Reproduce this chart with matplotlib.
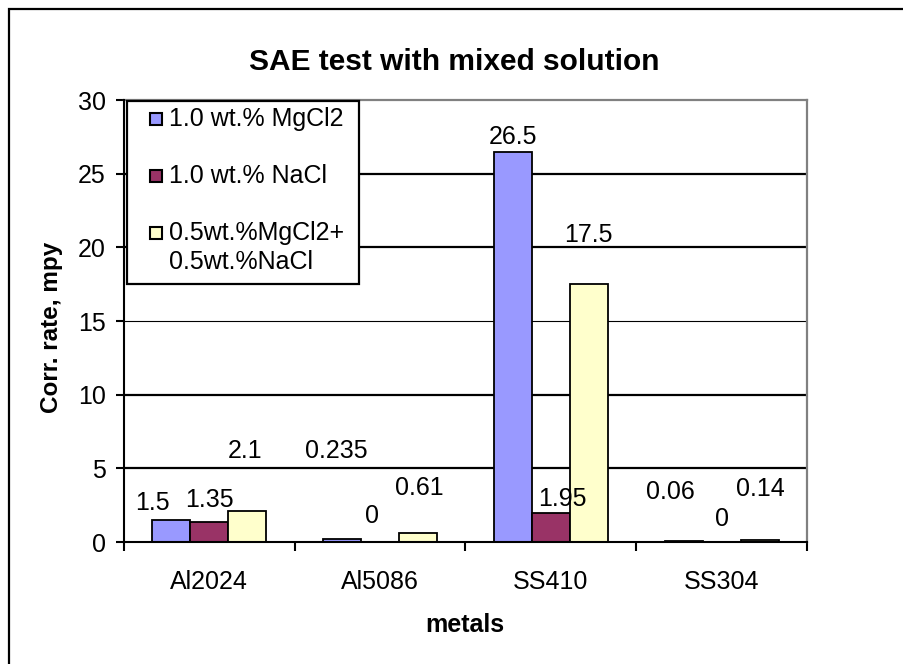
import matplotlib
matplotlib.use("Agg")
import matplotlib.pyplot as plt
import numpy as np
from matplotlib.patches import Rectangle

plt.rcParams['font.family'] = ['Liberation Sans', 'DejaVu Sans']

categories = ["Al2024", "Al5086", "SS410", "SS304"]
series_names = ["1.0 wt.% MgCl2", "1.0 wt.% NaCl", "0.5wt.%MgCl2+\n0.5wt.%NaCl"]
mgcl2 = [1.5, 0.235, 26.5, 0.06]
nacl = [1.35, 0.0, 1.95, 0.0]
mixed = [2.1, 0.61, 17.5, 0.14]
label_texts = [["1.5", "0.235", "26.5", "0.06"],
               ["1.35", "0", "1.95", "0"],
               ["2.1", "0.61", "17.5", "0.14"]]
yticks = [0, 5, 10, 15, 20, 25, 30]

# data-label placement (as moved in the original): y centre in data units,
# x offset in bar widths
label_y = [[2.65, 6.18, 27.49, 3.39],
           [2.85, 1.76, 2.92, 1.56],
           [6.18, 3.67, 20.84, 3.60]]
label_dx = [[-0.51, -0.16, 0.0, -0.36],
            [0.0, -0.21, 0.29, 0.01],
            [-0.06, 0.04, -0.02, 0.01]]

colors = ["#9999FF", "#993366", "#FFFFCC"]

W, H = 904, 664
fig = plt.figure(figsize=(W / 100, H / 100), dpi=100)


def fx(px):
    return px / W


def fy(py):
    return 1 - py / H


ax = fig.add_axes([fx(124), fy(542), (807 - 124) / W, (542 - 100) / H])

x = np.arange(len(categories))
bw = 1 / 4.5
series = [mgcl2, nacl, mixed]
for i, (vals, c) in enumerate(zip(series, colors)):
    pos = x + (i - 1) * bw
    ax.bar(pos, vals, width=bw, color=c, edgecolor="black", linewidth=1.3, zorder=3)
    for j in range(len(categories)):
        ax.text(pos[j] + label_dx[i][j] * bw, label_y[i][j], label_texts[i][j],
                ha="center", va="center", fontsize=18, zorder=5)

ax.set_xlim(-0.5, len(categories) - 0.5)
ax.set_ylim(0, 30)
ax.set_yticks(yticks)
ax.set_yticklabels([str(v) for v in yticks], fontsize=18)
ax.set_xticks(np.arange(len(categories) + 1) - 0.5)
ax.set_xticklabels([])
ax.set_xticks(x, minor=True)
ax.set_xticklabels(categories, minor=True, fontsize=18)
ax.tick_params(axis="x", which="minor", length=0, pad=20.5)
ax.tick_params(axis="x", which="major", direction="out", length=6.5, width=1.5)
ax.tick_params(axis="y", direction="out", length=6, width=1.5, pad=7)

for v in yticks[1:-1]:
    ax.axhline(v, color="black", linewidth=(0.8 if v == 15 else 1.6), zorder=1)

for s in ["left", "bottom"]:
    ax.spines[s].set_color("black")
    ax.spines[s].set_linewidth(1.5)
    ax.spines[s].set_zorder(4)
for s in ["top", "right"]:
    ax.spines[s].set_color("#808080")
    ax.spines[s].set_linewidth(1.6)

fig.text(fx(465), fy(625), "metals", ha="center", va="center",
         fontsize=18, fontweight="bold")
fig.text(fx(52), fy(327), "Corr. rate, mpy", ha="center", va="center",
         rotation=90, fontsize=17.5, fontweight="bold")
fig.text(fx(454), fy(62), "SAE test with mixed solution", ha="center",
         va="center", fontsize=21.5, fontweight="bold")

# legend (drawn as in the original: boxed, entries spaced out)
fig.add_artist(Rectangle((fx(127), fy(284)), (359 - 127) / W, (284 - 101) / H,
                         transform=fig.transFigure, facecolor="white",
                         edgecolor="black", linewidth=1.6, zorder=6))
entry_y = [119, 176, 233]
for name, c, ey in zip(series_names, colors, entry_y):
    fig.add_artist(Rectangle((fx(150), fy(ey + 6)), 12 / W, 12 / H,
                             transform=fig.transFigure, facecolor=c,
                             edgecolor="black", linewidth=1.5, zorder=7))
    for k, line in enumerate(name.split("\n")):
        fig.text(fx(169), fy(ey + 29 * k), line, ha="left", va="center",
                 fontsize=18, zorder=7)

fig.add_artist(Rectangle((fx(9), -0.5), 2.0, 0.5 + fy(9),
                         transform=fig.transFigure, fill=False,
                         edgecolor="black", linewidth=1.6))

fig.savefig("out.png", dpi=100)
